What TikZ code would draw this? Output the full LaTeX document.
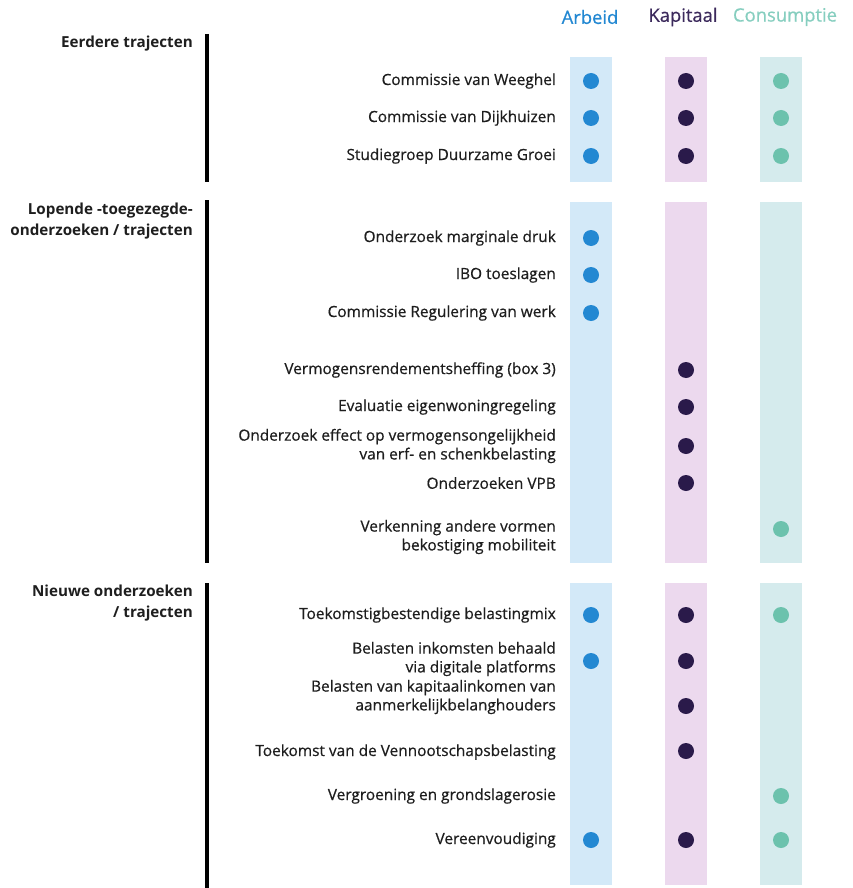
\documentclass[tikz,border=0pt]{standalone}
\usepackage{fontspec}
\setmainfont{Open Sans}
\newfontfamily\medfont{Open Sans}[FakeBold=0.6]
\usepackage{xcolor}
\definecolor{arbeid}{HTML}{2388D2}
\definecolor{arbeidband}{HTML}{D3E9F8}
\definecolor{kapitaal}{HTML}{2A1A4A}
\definecolor{kapitaalband}{HTML}{ECD9EE}
\definecolor{kapitaalhead}{HTML}{3C2A5C}
\definecolor{consumptie}{HTML}{6CC2AD}
\definecolor{consumptieband}{HTML}{D5EBED}
\definecolor{consumptiehead}{HTML}{86CEBF}
\definecolor{ink}{HTML}{1E1E1E}
\usetikzlibrary{positioning}
\tikzset{
	lbl/.style={anchor=east,align=right,inner sep=0pt,text=ink,font=\medfont\fontsize{15.4}{18.8}\selectfont},
	grp/.style={anchor=east,align=right,inner sep=0pt,text=ink,font=\fontsize{15.2}{21}\selectfont\bfseries},
	head/.style={inner sep=0pt,font=\medfont\fontsize{18.4}{20}\selectfont},
	dot/.style={circle,inner sep=0pt,minimum size=16pt},
	bar/.style={line width=3.5pt}
}

\begin{document}
\begin{tikzpicture}[x=1pt,y=-1pt]
		\useasboundingbox (0,0) rectangle (853,888);
		
		%%% column heads
		\node[head,text=arbeid] (arbeid) at (590,17) {Arbeid};
		\node[head,text=kapitaalhead] (kapitaal) at (683,17) {Kapitaal};
		\node[head,text=consumptiehead] (consumptie) at (785,17) {Consumptie};
		
		%%% bands
		\foreach \top/\bot in {57/182, 202/563, 583/885}{
			\fill[arbeidband] (570,\top) rectangle (612,\bot);
			\fill[kapitaalband] (665,\top) rectangle (707,\bot);
			\fill[consumptieband] (760,\top) rectangle (802,\bot);
		}
		
		%%% group bars and titles
		\draw[bar] (207,34) -- (207,182);
		\draw[bar] (207,200) -- (207,563);
		\draw[bar] (207,583) -- (207,888);
		\node[grp] (eerdere) at (193,44) {Eerdere trajecten};
		\node[grp] (lopende) at (193,221) {Lopende -toegezegde-\\onderzoeken / trajecten};
		\node[grp] (nieuwe) at (193,603) {Nieuwe onderzoeken\\/ trajecten};
		
		%%% EERDERE
		\node[lbl] (weeghel) at (556,81) {Commissie van Weeghel};
		\node[lbl] (dijkhuizen) at (556,118) {Commissie van Dijkhuizen};
		\node[lbl] (groei) at (556,156) {Studiegroep Duurzame Groei};
		\foreach \n/\y in {weeghel/81, dijkhuizen/118, groei/156}{
			\node[dot,fill=arbeid] (\n-a) at (591,\y) {};
			\node[dot,fill=kapitaal] (\n-k) at (686,\y) {};
			\node[dot,fill=consumptie] (\n-c) at (781,\y) {};
		}
		
		%%% LOPENDE
		\node[lbl] (druk) at (556,238) {Onderzoek marginale druk};
		\node[lbl] (ibo) at (556,275) {IBO toeslagen};
		\node[lbl] (regulering) at (556,313) {Commissie Regulering van werk};
		\foreach \n/\y in {druk/238, ibo/275, regulering/313}
			\node[dot,fill=arbeid] (\n-a) at (591,\y) {};
		
		\node[lbl] (box) at (556,370) {Vermogensrendementsheffing (box 3)};
		\node[lbl] (eigenwoning) at (556,407) {Evaluatie eigenwoningregeling};
		\node[lbl] (erf) at (556,446) {Onderzoek effect op vermogensongelijkheid\\van erf- en schenkbelasting};
		\node[lbl] (vpb) at (556,483) {Onderzoeken VPB};
		\foreach \n/\y in {box/370, eigenwoning/407, erf/446, vpb/483}
			\node[dot,fill=kapitaal] (\n-k) at (686,\y) {};
		
		\node[lbl] (mobiliteit) at (556,537) {Verkenning andere vormen\\bekostiging mobiliteit};
		\node[dot,fill=consumptie] (mobiliteit-c) at (781,529) {};
		
		%%% NIEUWE
		\node[lbl] (mix) at (556,615) {Toekomstigbestendige belastingmix};
		\node[lbl] (platforms) at (556,659) {Belasten inkomsten behaald\\via digitale platforms};
		\node[lbl] (ab) at (556,697) {Belasten van kapitaalinkomen van\\aanmerkelijkbelanghouders};
		\node[lbl] (vennoot) at (556,752) {Toekomst van de Vennootschapsbelasting};
		\node[lbl] (groen) at (556,796) {Vergroening en grondslagerosie};
		\node[lbl] (eenvoud) at (556,840) {Vereenvoudiging};
		
		\foreach \n/\y in {mix/615, platforms/661, eenvoud/840}
			\node[dot,fill=arbeid] (\n-a) at (591,\y) {};
		\foreach \n/\y in {mix/615, platforms/661, ab/706, vennoot/751, eenvoud/840}
			\node[dot,fill=kapitaal] (\n-k) at (686,\y) {};
		\foreach \n/\y in {mix/615, groen/796, eenvoud/840}
			\node[dot,fill=consumptie] (\n-c) at (781,\y) {};
		
	\end{tikzpicture}
\end{document}
